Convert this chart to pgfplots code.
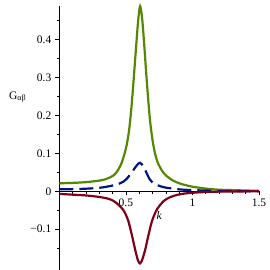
\documentclass[border=0pt]{standalone}
\usepackage{fontspec}
\setmainfont{Liberation Serif}
\usepackage{pgfplots}
\pgfplotsset{compat=1.18}
\definecolor{mgreen}{RGB}{84,136,0}
\definecolor{mblue}{RGB}{0,20,130}
\definecolor{mred}{RGB}{128,0,24}
\begin{document}
\fontsize{11.5}{13}\selectfont
\begin{tikzpicture}
\begin{axis}[name=ax, scale only axis, width=199.7pt, height=263.9pt,
  xmin=0, xmax=1.5, ymin=-0.207, ymax=0.4876,
  axis lines=middle, axis line style={-, line width=0.6pt},
  xtick={0.5,1,1.5}, xticklabels={0.5,1,1.5},
  ytick={-0.1,0,0.1,0.2,0.3,0.4}, yticklabels={−0.1,0,0.1,0.2,0.3,0.4},
  minor xtick={0.1,0.2,0.3,0.4,0.6,0.7,0.8,0.9,1.1,1.2,1.3,1.4},
  minor ytick={-0.15,-0.05,0.05,0.15,0.25,0.35,0.45},
  tick align=outside, major tick length=4pt, minor tick length=2.5pt,
  tick style={black, line width=0.5pt},
  hide obscured x ticks=false, hide obscured y ticks=false,
  ticklabel style={font=\fontsize{11.5}{13}\selectfont},
  every axis x label/.style={at={(axis description cs:0.5,0.2045)}, anchor=center},
  every axis y label/.style={at={(axis description cs:-0.209,0.655)}, anchor=center},
  xlabel={\textit{k}}, ylabel={G\textsubscript{αβ}},
  clip=false,
]
\addplot[mgreen, line width=2.2pt, smooth] coordinates {
(0.00,0.021) (0.10,0.022) (0.20,0.024) (0.30,0.028) (0.35,0.032) (0.40,0.040)
(0.43,0.050) (0.46,0.068) (0.48,0.087) (0.50,0.112) (0.52,0.150) (0.535,0.195)
(0.55,0.255) (0.565,0.325) (0.578,0.385) (0.59,0.440) (0.600,0.475) (0.607,0.487)
(0.614,0.477) (0.625,0.445) (0.638,0.385) (0.652,0.315) (0.667,0.245) (0.682,0.185)
(0.70,0.135) (0.72,0.098) (0.74,0.075) (0.77,0.055) (0.80,0.042) (0.85,0.029)
(0.90,0.021) (0.95,0.016) (1.00,0.012) (1.10,0.007) (1.20,0.004) (1.30,0.003)
(1.40,0.002) (1.50,0.001)};
\addplot[mblue, line width=2.2pt, smooth, dash pattern=on 14pt off 6pt] coordinates {
(0.00,0.005) (0.15,0.006) (0.30,0.009) (0.40,0.015) (0.45,0.020) (0.48,0.025)
(0.51,0.034) (0.53,0.043) (0.555,0.055) (0.575,0.065) (0.595,0.073) (0.606,0.075)
(0.62,0.071) (0.645,0.056) (0.665,0.041) (0.68,0.031) (0.70,0.023) (0.73,0.017)
(0.78,0.011) (0.83,0.008) (0.90,0.005) (1.00,0.003) (1.20,0.001) (1.50,0.000)};
\addplot[mred, line width=2.2pt, smooth] coordinates {
(0.00,-0.007) (0.10,-0.009) (0.20,-0.011) (0.30,-0.015) (0.36,-0.019) (0.40,-0.024)
(0.44,-0.034) (0.48,-0.049) (0.50,-0.062) (0.52,-0.080) (0.545,-0.115) (0.57,-0.154)
(0.59,-0.181) (0.606,-0.190) (0.622,-0.181) (0.645,-0.154) (0.67,-0.115) (0.695,-0.080)
(0.715,-0.061) (0.735,-0.047) (0.76,-0.035) (0.79,-0.024) (0.83,-0.016) (0.88,-0.010)
(0.94,-0.006) (1.00,-0.004) (1.10,-0.002) (1.20,-0.001) (1.35,-0.0005) (1.50,0.000)};
\end{axis}
\pgfresetboundingbox
\path[use as bounding box] ([xshift=-59.3pt]ax.south west) rectangle ([xshift=11pt,yshift=6pt]ax.north east);
\end{tikzpicture}
\end{document}
